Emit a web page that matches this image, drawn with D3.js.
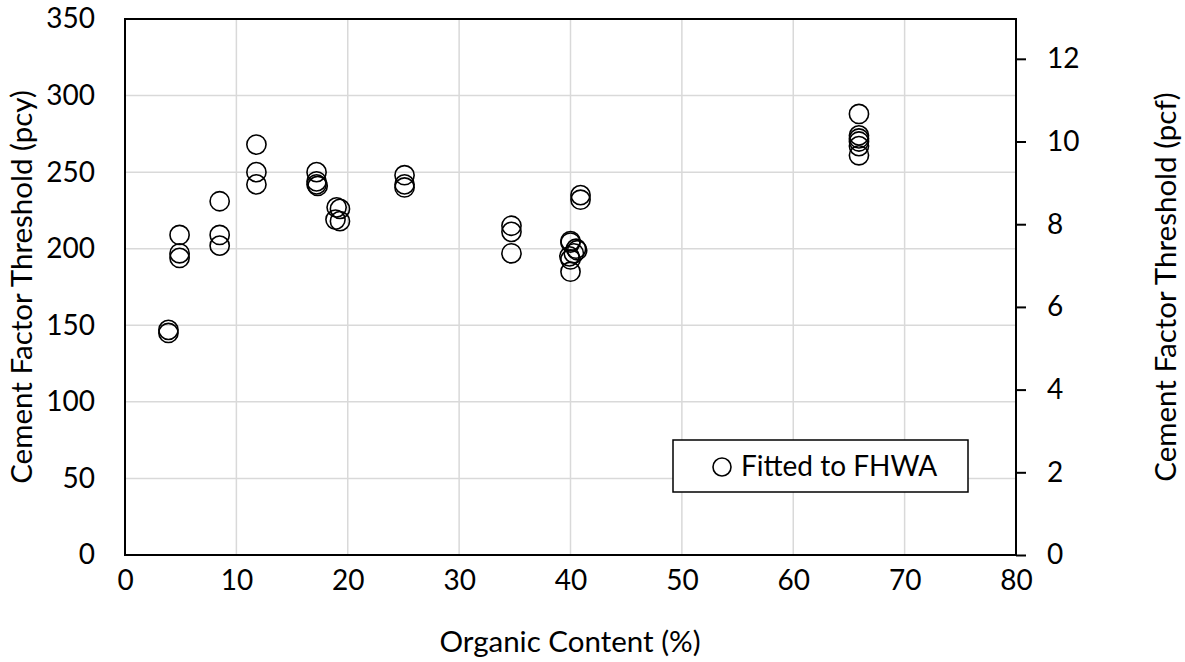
<!DOCTYPE html>
<html><head><meta charset="utf-8">
<script src="https://cdn.jsdelivr.net/npm/d3@7"></script>
<style>body{margin:0;background:#fff}svg{display:block}text{font-family:Lato,"Open Sans",sans-serif;fill:#000}</style>
</head><body><svg id="c" width="1185" height="662"></svg>
<script>
const organic = [3.9,3.9, 4.9,4.9,4.9, 8.5,8.5,8.5, 11.8,11.8,11.8, 17.2,17.2,17.2,17.3, 19.0,19.3,18.9,19.3, 25.1,25.1,25.1, 34.7,34.7,34.7, 40.9,40.9, 40.0,40.0,39.9,40.0,40.0,40.5,40.6,40.3, 65.9,65.9,65.9,65.9,65.9,65.9];
const cementPcy = [147,145, 209,197,194, 231,209,202, 268,250,242, 250,244,242,241, 227,226,219,218, 248,242,240, 215,211,197, 235,232, 205,204,195,193,185,200,199,197, 288,274,272,270,267,261];
const xTicks = [0,10,20,30,40,50,60,70,80];
const yTicks = [0,50,100,150,200,250,300,350];
const y2Ticks = [0,2,4,6,8,10,12];
const legendLabel = "Fitted to FHWA";

const svg = d3.select("#c");
const L=125, R=1016, T=19, B=555;
const x = d3.scaleLinear().domain([0,80]).range([L,R]);
const y = d3.scaleLinear().domain([0,350]).range([B,T]);
const y2 = d3.scaleLinear().domain([0,350/27]).range([B,T]);

const grid = "#d9d9d9";
svg.append("g").selectAll("line").data(xTicks.filter(d=>d>0&&d<80)).join("line")
  .attr("x1",d=>x(d)).attr("x2",d=>x(d)).attr("y1",T).attr("y2",B)
  .attr("stroke",grid).attr("stroke-width",1.5);
svg.append("g").selectAll("line").data(yTicks.filter(d=>d>0&&d<350)).join("line")
  .attr("x1",L).attr("x2",R).attr("y1",d=>y(d)).attr("y2",d=>y(d))
  .attr("stroke",grid).attr("stroke-width",1.5);

svg.append("rect").attr("x",L).attr("y",T).attr("width",R-L).attr("height",B-T)
  .attr("fill","none").attr("stroke","#000").attr("stroke-width",2);

const fs = 28, fsT = 29.5;
const styleText = g=>g.selectAll("text").style("font-size",fs+"px").style("font-family","Lato").attr("fill","#000");
svg.append("g").attr("transform",`translate(${L},0)`)
  .call(d3.axisLeft(y).tickValues(yTicks).tickSize(0).tickPadding(30))
  .call(g=>g.select(".domain").remove()).call(styleText);
svg.append("g").attr("transform",`translate(0,${B})`)
  .call(d3.axisBottom(x).tickValues(xTicks).tickSize(0).tickPadding(15))
  .call(g=>g.select(".domain").remove()).call(styleText);
svg.append("g").attr("transform",`translate(${R},0)`)
  .call(d3.axisRight(y2).tickValues(y2Ticks).tickSize(10).tickPadding(21))
  .call(g=>g.select(".domain").remove())
  .call(g=>g.selectAll("line").attr("stroke","#000").attr("stroke-width",2))
  .call(styleText);

svg.append("text").attr("x",570).attr("y",652).attr("text-anchor","middle").style("font-size",fsT+"px").text("Organic Content (%)");
svg.append("text").attr("transform",`translate(32,287) rotate(-90)`).attr("text-anchor","middle").style("font-size",fsT+"px").text("Cement Factor Threshold (pcy)");
svg.append("text").attr("transform",`translate(1176,287) rotate(-90)`).attr("text-anchor","middle").style("font-size",fsT+"px").text("Cement Factor Threshold (pcf)");

svg.append("g").selectAll("circle").data(organic.map((o,i)=>[o,cementPcy[i]])).join("circle")
  .attr("cx",d=>x(d[0])).attr("cy",d=>y(d[1])).attr("r",9.6)
  .attr("fill","none").attr("stroke","#000").attr("stroke-width",1.6);

const lg = svg.append("g");
lg.append("rect").attr("x",673).attr("y",440).attr("width",295).attr("height",52).attr("fill","#fff").attr("stroke","#000").attr("stroke-width",1.5);
lg.append("circle").attr("cx",722).attr("cy",467).attr("r",9).attr("fill","none").attr("stroke","#000").attr("stroke-width",1.6);
lg.append("text").attr("x",741).attr("y",476).style("font-size",fs+"px").text(legendLabel);
</script></body></html>
